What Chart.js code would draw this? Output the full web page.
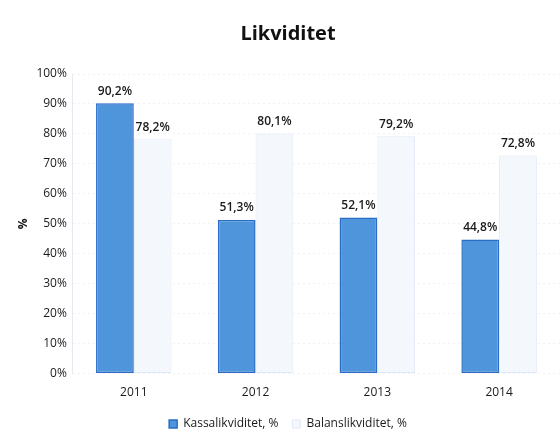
<!DOCTYPE html>
<html>
<head>
<meta charset="utf-8">
<script src="https://cdn.jsdelivr.net/npm/chart.js@4/dist/chart.umd.min.js"></script>
<style>
    html, body { margin: 0; padding: 0; background: #ffffff; }
    #wrap { width: 560px; height: 440px; position: relative; }
</style>
</head>
<body>
<div id="wrap"><canvas id="grafica"></canvas></div>
<script>
const ar = ['2011', '2012', '2013', '2014'];
const kassalikviditet = [90.2, 51.3, 52.1, 44.8];
const balanslikviditet = [78.2, 80.1, 79.2, 72.8];
const etiquetasY = ['0%', '10%', '20%', '30%', '40%', '50%', '60%', '70%', '80%', '90%', '100%'];

const fuente = "'Open Sans', 'DejaVu Sans', sans-serif";

// escribe el valor encima de cada barra
const etiquetasValor = {
    id: 'etiquetasValor',
    afterDatasetsDraw(chart) {
        const ctx = chart.ctx;
        ctx.save();
        ctx.font = '600 12px ' + fuente;
        ctx.fillStyle = '#1a1a1a';
        ctx.textAlign = 'center';
        ctx.textBaseline = 'bottom';
        chart.data.datasets.forEach((ds, i) => {
            chart.getDatasetMeta(i).data.forEach((barra, j) => {
                let texto = ds.data[j].toFixed(1).replace('.', ',') + '%';
                ctx.fillText(texto, barra.x, barra.y - 6);
            });
        });
        ctx.restore();
    }
};

new Chart(document.getElementById('grafica'), {
    type: 'bar',
    data: {
        labels: ar,
        datasets: [{
            label: 'Kassalikviditet, %',
            data: kassalikviditet,
            backgroundColor: '#4f95dc',
            borderColor: '#2a6cc6',
            borderWidth: 1.5,
            borderSkipped: false
        }, {
            label: 'Balanslikviditet, %',
            data: balanslikviditet,
            backgroundColor: '#f4f8fd',
            borderColor: '#e0eaf6',
            borderWidth: 1,
            borderSkipped: false
        }]
    },
    options: {
        responsive: true,
        maintainAspectRatio: false,
        animation: false,
        layout: { padding: { top: 10, right: 0, left: 16, bottom: 0 } },
        categoryPercentage: 0.62,
        barPercentage: 1.0,
        scales: {
            x: {
                grid: { display: false },
                border: { display: false },
                ticks: { color: '#1a1a1a', font: { family: fuente, size: 12 }, padding: 4 }
            },
            y: {
                min: 0,
                max: 100,
                ticks: {
                    stepSize: 10,
                    color: '#1a1a1a',
                    font: { family: fuente, size: 12 },
                    padding: 6,
                    callback: (v, i) => etiquetasY[i]
                },
                grid: { color: '#f0f2f6', drawTicks: false },
                border: { display: true, color: '#e6eaf0', dash: [2, 3] },
                title: {
                    display: true,
                    text: '%',
                    color: '#1a1a1a',
                    font: { family: fuente, size: 12, weight: 'bold' },
                    padding: 0
                }
            }
        },
        plugins: {
            title: {
                display: true,
                text: 'Likviditet',
                color: '#111111',
                font: { family: fuente, size: 20, weight: 'bold' },
                padding: { top: 12, bottom: 28 }
            },
            legend: {
                position: 'bottom',
                labels: {
                    color: '#1a1a1a',
                    font: { family: fuente, size: 12 },
                    boxWidth: 8,
                    boxHeight: 8,
                    padding: 14
                }
            },
            tooltip: { enabled: false }
        }
    },
    plugins: [etiquetasValor]
});
</script>
</body>
</html>
